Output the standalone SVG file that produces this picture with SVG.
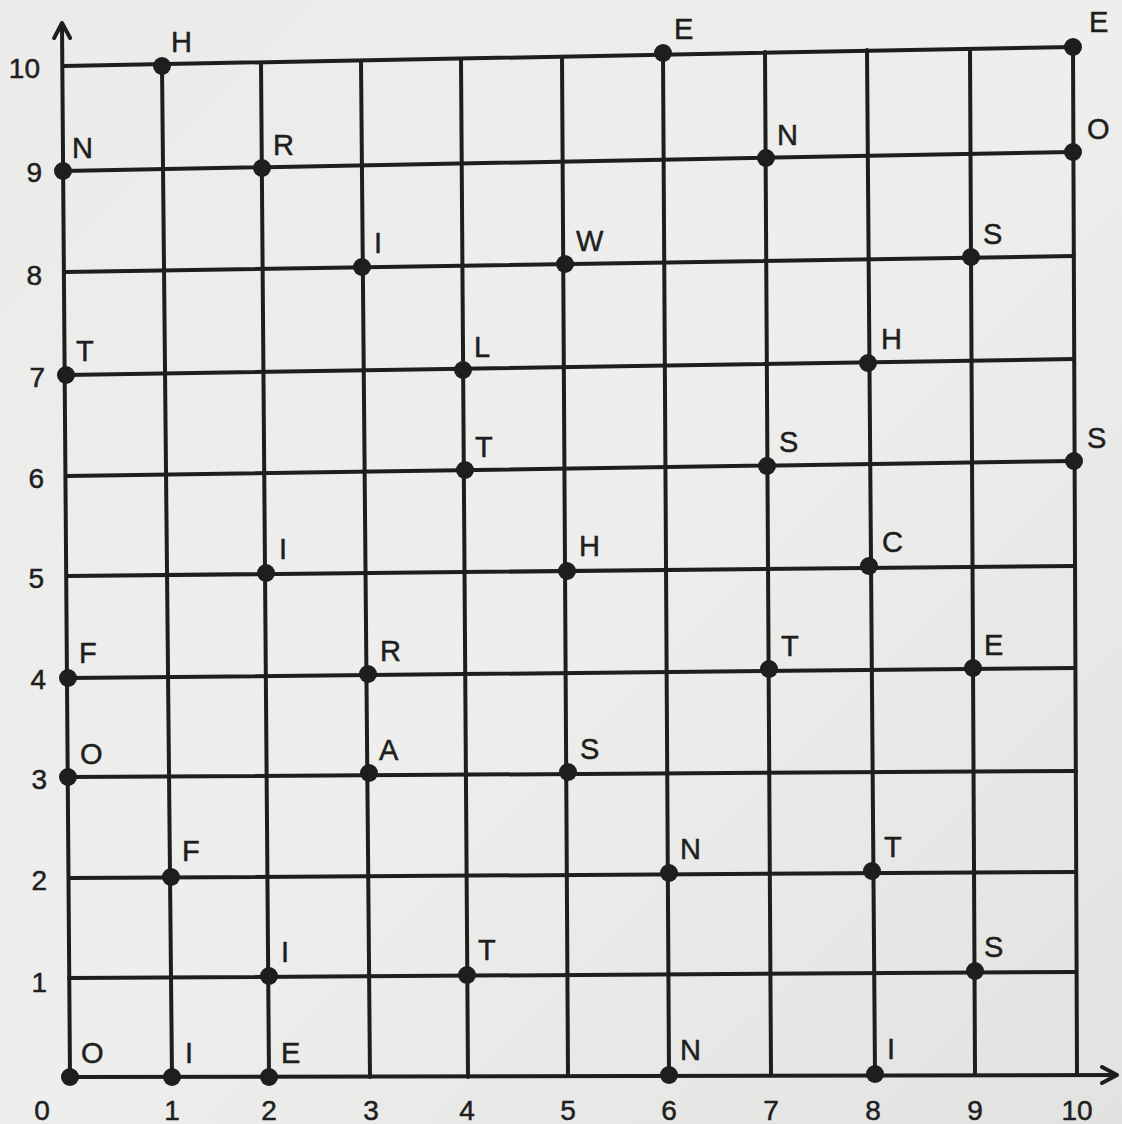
<svg xmlns="http://www.w3.org/2000/svg" width="1122" height="1124" viewBox="0 0 1122 1124">
<defs>
<linearGradient id="bg" x1="0" y1="0" x2="1" y2="1">
<stop offset="0" stop-color="#ebebe9"/>
<stop offset="0.5" stop-color="#eeeeec"/>
<stop offset="1" stop-color="#e2e2e0"/>
</linearGradient>
<marker id="arr" viewBox="0 0 20 20" refX="16" refY="10" markerWidth="20" markerHeight="20" markerUnits="userSpaceOnUse" orient="auto">
<path d="M2,2 L17,10 L2,18" fill="none" stroke="#1e1e1e" stroke-width="4" stroke-linecap="round" stroke-linejoin="round"/>
</marker>
<style>
.g{stroke:#1e1e1e;stroke-width:4;fill:none;stroke-linecap:round}
.d{fill:#1e1e1e}
.l{font-family:"Liberation Sans",Arial,sans-serif;font-size:29px;fill:#1e1e1e;stroke:#1e1e1e;stroke-width:0.5}
.a{font-family:"Liberation Sans",Arial,sans-serif;font-size:28px;fill:#1e1e1e;stroke:#1e1e1e;stroke-width:0.5}
</style>
</defs>
<rect width="1122" height="1124" fill="url(#bg)"/>
<g id="connectors">
<line class="g" x1="162" y1="65" x2="172" y2="1077"/>
<line class="g" x1="261" y1="63" x2="269" y2="1077"/>
<line class="g" x1="361" y1="61" x2="370" y2="1077"/>
<line class="g" x1="461" y1="60" x2="468" y2="1077"/>
<line class="g" x1="562" y1="57" x2="568" y2="1076"/>
<line class="g" x1="663" y1="53" x2="669" y2="1075"/>
<line class="g" x1="765" y1="52" x2="771" y2="1075"/>
<line class="g" x1="867" y1="50" x2="875" y2="1074"/>
<line class="g" x1="970" y1="49" x2="975" y2="1073"/>
<line class="g" x1="1073" y1="47" x2="1077" y2="1075"/>
<line class="g" x1="63" y1="66" x2="1073" y2="47"/>
<line class="g" x1="63" y1="171" x2="1073" y2="152"/>
<line class="g" x1="65" y1="272" x2="1074" y2="256"/>
<line class="g" x1="66" y1="375" x2="1074" y2="359"/>
<line class="g" x1="67" y1="476" x2="1074" y2="461"/>
<line class="g" x1="67" y1="576" x2="1075" y2="566"/>
<line class="g" x1="68" y1="678" x2="1075" y2="668"/>
<line class="g" x1="68" y1="777" x2="1076" y2="771"/>
<line class="g" x1="69" y1="878" x2="1076" y2="872"/>
<line class="g" x1="69" y1="978" x2="1076" y2="972"/>
<line class="g" x1="70" y1="1077" x2="62" y2="24" marker-end="url(#arr)"/>
<line class="g" x1="70" y1="1077" x2="1116" y2="1075" marker-end="url(#arr)"/>
</g>
<g id="axis-labels">
<text class="a" x="40" y="78" text-anchor="end">10</text>
<text class="a" x="42" y="182" text-anchor="end">9</text>
<text class="a" x="42" y="285" text-anchor="end">8</text>
<text class="a" x="45" y="387" text-anchor="end">7</text>
<text class="a" x="44" y="488" text-anchor="end">6</text>
<text class="a" x="44" y="588" text-anchor="end">5</text>
<text class="a" x="46" y="689" text-anchor="end">4</text>
<text class="a" x="47" y="789" text-anchor="end">3</text>
<text class="a" x="47" y="890" text-anchor="end">2</text>
<text class="a" x="47" y="992" text-anchor="end">1</text>
<text class="a" x="42" y="1120" text-anchor="middle">0</text>
<text class="a" x="172" y="1120" text-anchor="middle">1</text>
<text class="a" x="269" y="1120" text-anchor="middle">2</text>
<text class="a" x="371" y="1120" text-anchor="middle">3</text>
<text class="a" x="467" y="1120" text-anchor="middle">4</text>
<text class="a" x="568" y="1120" text-anchor="middle">5</text>
<text class="a" x="669" y="1120" text-anchor="middle">6</text>
<text class="a" x="771" y="1120" text-anchor="middle">7</text>
<text class="a" x="873" y="1120" text-anchor="middle">8</text>
<text class="a" x="975" y="1120" text-anchor="middle">9</text>
<text class="a" x="1077" y="1120" text-anchor="middle">10</text>
</g>
<g id="n-1-10"><circle class="d" cx="162" cy="66" r="9"/><text class="l" x="171" y="52">H</text></g>
<g id="n-6-10"><circle class="d" cx="663" cy="53" r="9"/><text class="l" x="674" y="39">E</text></g>
<g id="n-10-10"><circle class="d" cx="1073" cy="47" r="9"/><text class="l" x="1089" y="32">E</text></g>
<g id="n-0-9"><circle class="d" cx="63" cy="171" r="9"/><text class="l" x="72" y="158">N</text></g>
<g id="n-2-9"><circle class="d" cx="262" cy="168" r="9"/><text class="l" x="273" y="155">R</text></g>
<g id="n-7-9"><circle class="d" cx="766" cy="158" r="9"/><text class="l" x="777" y="145">N</text></g>
<g id="n-10-9"><circle class="d" cx="1073" cy="152" r="9"/><text class="l" x="1087" y="139">O</text></g>
<g id="n-3-8"><circle class="d" cx="362" cy="267" r="9"/><text class="l" x="374" y="253">I</text></g>
<g id="n-5-8"><circle class="d" cx="565" cy="264" r="9"/><text class="l" x="576" y="251">W</text></g>
<g id="n-9-8"><circle class="d" cx="971" cy="257" r="9"/><text class="l" x="983" y="244">S</text></g>
<g id="n-0-7"><circle class="d" cx="66" cy="375" r="9"/><text class="l" x="76" y="361">T</text></g>
<g id="n-4-7"><circle class="d" cx="463" cy="370" r="9"/><text class="l" x="474" y="357">L</text></g>
<g id="n-8-7"><circle class="d" cx="868" cy="363" r="9"/><text class="l" x="881" y="349">H</text></g>
<g id="n-4-6"><circle class="d" cx="465" cy="470" r="9"/><text class="l" x="475" y="457">T</text></g>
<g id="n-7-6"><circle class="d" cx="767" cy="466" r="9"/><text class="l" x="779" y="452">S</text></g>
<g id="n-10-6"><circle class="d" cx="1074" cy="461" r="9"/><text class="l" x="1087" y="448">S</text></g>
<g id="n-2-5"><circle class="d" cx="266" cy="573" r="9"/><text class="l" x="279" y="559">I</text></g>
<g id="n-5-5"><circle class="d" cx="567" cy="571" r="9"/><text class="l" x="579" y="556">H</text></g>
<g id="n-8-5"><circle class="d" cx="869" cy="566" r="9"/><text class="l" x="882" y="552">C</text></g>
<g id="n-0-4"><circle class="d" cx="68" cy="678" r="9"/><text class="l" x="79" y="663">F</text></g>
<g id="n-3-4"><circle class="d" cx="368" cy="674" r="9"/><text class="l" x="380" y="661">R</text></g>
<g id="n-7-4"><circle class="d" cx="769" cy="669" r="9"/><text class="l" x="781" y="656">T</text></g>
<g id="n-9-4"><circle class="d" cx="973" cy="668" r="9"/><text class="l" x="984" y="655">E</text></g>
<g id="n-0-3"><circle class="d" cx="68" cy="777" r="9"/><text class="l" x="80" y="764">O</text></g>
<g id="n-3-3"><circle class="d" cx="369" cy="773" r="9"/><text class="l" x="379" y="760">A</text></g>
<g id="n-5-3"><circle class="d" cx="568" cy="772" r="9"/><text class="l" x="580" y="759">S</text></g>
<g id="n-1-2"><circle class="d" cx="171" cy="877" r="9"/><text class="l" x="182" y="861">F</text></g>
<g id="n-6-2"><circle class="d" cx="669" cy="873" r="9"/><text class="l" x="680" y="859">N</text></g>
<g id="n-8-2"><circle class="d" cx="872" cy="871" r="9"/><text class="l" x="884" y="857">T</text></g>
<g id="n-2-1"><circle class="d" cx="269" cy="976" r="9"/><text class="l" x="281" y="962">I</text></g>
<g id="n-4-1"><circle class="d" cx="467" cy="975" r="9"/><text class="l" x="478" y="960">T</text></g>
<g id="n-9-1"><circle class="d" cx="975" cy="971" r="9"/><text class="l" x="984" y="957">S</text></g>
<g id="n-0-0"><circle class="d" cx="70" cy="1077" r="9"/><text class="l" x="81" y="1063">O</text></g>
<g id="n-1-0"><circle class="d" cx="172" cy="1077" r="9"/><text class="l" x="185" y="1063">I</text></g>
<g id="n-2-0"><circle class="d" cx="269" cy="1077" r="9"/><text class="l" x="281" y="1063">E</text></g>
<g id="n-6-0"><circle class="d" cx="669" cy="1075" r="9"/><text class="l" x="680" y="1060">N</text></g>
<g id="n-8-0"><circle class="d" cx="875" cy="1074" r="9"/><text class="l" x="887" y="1059">I</text></g>
</svg>
